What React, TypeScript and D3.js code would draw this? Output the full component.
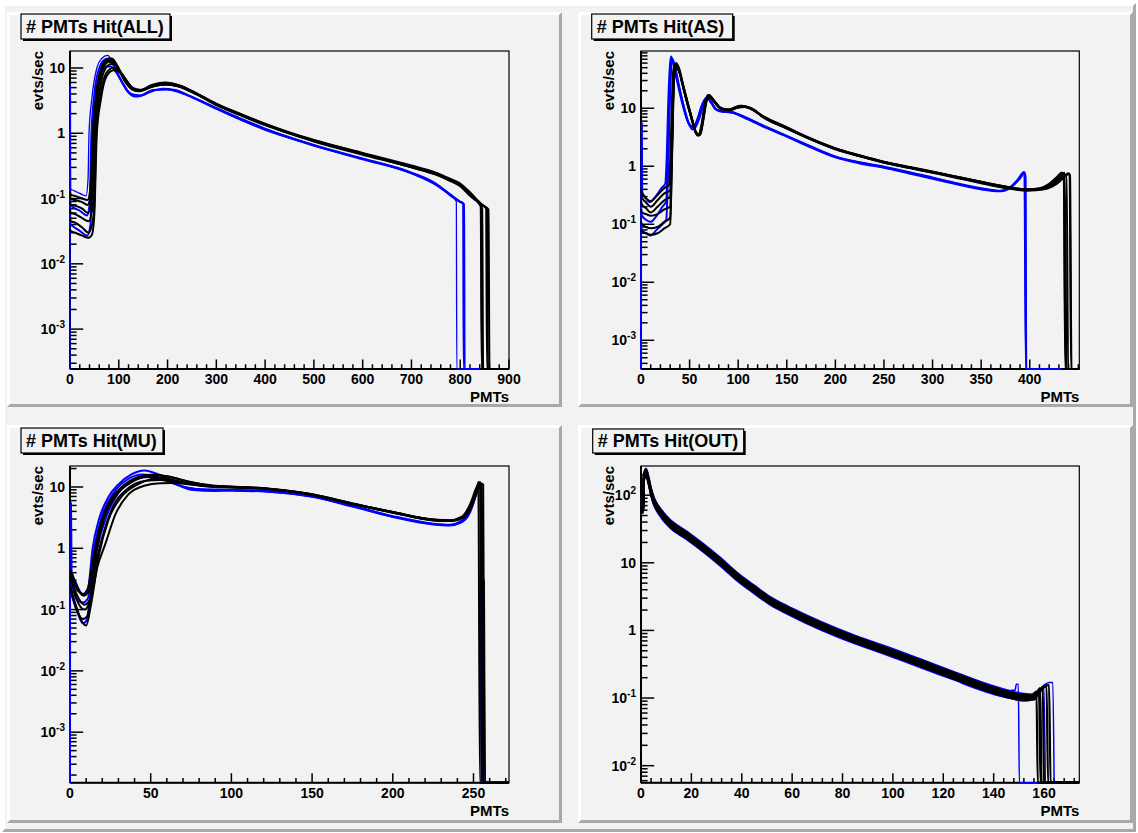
import * as d3 from 'd3';
import React from 'react';

type Pt = [number, number];

// ---------------- # PMTs Hit(ALL) ----------------
const allTitle = '# PMTs Hit(ALL)';
const allXMax = 900;
const allYRange: Pt = [2.45e-4, 18.2];
const allXLabels = [0, 100, 200, 300, 400, 500, 600, 700, 800, 900];
const allXMinor = 20;
const allBlue: Pt[][] = [
  [[0, 0], [0.2, 5.5], [0.9, 5.5], [1.2, 0.14], [5, 0.135], [15, 0.125], [25, 0.115], [33, 0.11], [37, 0.2], [39, 1], [45, 3.5], [55, 10], [65, 14], [77, 15.6], [88, 12], [100, 7.5], [115, 4.6], [135, 3.6], [150, 3.8], [170, 4.5], [195, 4.7], [220, 4.3], [250, 3.5], [300, 2.35], [350, 1.6], [400, 1.12], [450, 0.84], [500, 0.64], [600, 0.4], [700, 0.24], [750, 0.16], [780, 0.11], [792, 0.09], [793, 0], [840, 0]],
  [[0, 0.3], [1, 0.08], [5, 0.075], [20, 0.065], [35, 0.055], [40, 0.08], [44, 1], [50, 4], [60, 10], [72, 13.5], [80, 14], [92, 10], [105, 6.5], [120, 4.3], [140, 3.7], [160, 4.2], [190, 4.8], [215, 4.6], [250, 3.6], [300, 2.45], [350, 1.68], [400, 1.18], [450, 0.87], [500, 0.66], [600, 0.41], [700, 0.25], [750, 0.17], [780, 0.115], [800, 0.09], [806, 0.085], [807, 0], [840, 0]],
  [[0, 0.1], [1, 0.04], [5, 0.038], [20, 0.032], [35, 0.027], [42, 0.04], [46, 1], [52, 3.5], [62, 8], [75, 10.5], [83, 10.5], [95, 8.5], [110, 5.5], [125, 4], [145, 3.8], [170, 4.6], [200, 4.7], [230, 4.2], [260, 3.3], [300, 2.4], [350, 1.62], [400, 1.14], [450, 0.85], [500, 0.65], [600, 0.4], [700, 0.245], [750, 0.165], [780, 0.112], [800, 0.088], [808, 0.082], [809, 0], [840, 0]],
];
const allBlueWidth = [1.3, 2, 2];
const allBlack: Pt[][] = [
  [[0, 0.13], [1, 0.115], [10, 0.11], [25, 0.1], [36, 0.095], [42, 0.15], [47, 1], [54, 4], [64, 10], [78, 13.8], [86, 14], [98, 10.5], [112, 6.5], [128, 4.8], [145, 4.6], [165, 5.4], [195, 6.0], [225, 5.4], [260, 4.0], [300, 2.8], [350, 1.95], [400, 1.38], [450, 1.02], [500, 0.78], [600, 0.49], [700, 0.31], [750, 0.245], [780, 0.195], [800, 0.165], [820, 0.12], [840, 0.082], [845, 0.07], [847, 0], [900, 0]],
  [[0, 0.09], [1, 0.08], [10, 0.078], [25, 0.07], [37, 0.06], [45, 0.1], [50, 1], [57, 4], [67, 9.5], [80, 12.5], [90, 12], [102, 9], [118, 5.5], [135, 4.5], [150, 4.7], [175, 5.6], [205, 5.8], [235, 5.0], [270, 3.7], [300, 2.85], [350, 1.98], [400, 1.4], [450, 1.03], [500, 0.79], [600, 0.5], [700, 0.32], [750, 0.25], [780, 0.2], [800, 0.17], [820, 0.125], [845, 0.08], [855, 0.07], [857, 0], [900, 0]],
  [[0, 0.07], [1, 0.06], [10, 0.058], [25, 0.05], [38, 0.045], [47, 0.08], [52, 1], [60, 4], [70, 9], [84, 11.5], [94, 11], [106, 8], [122, 5.2], [140, 4.4], [160, 4.9], [190, 5.7], [220, 5.3], [260, 3.9], [300, 2.75], [350, 1.9], [400, 1.35], [450, 1.0], [500, 0.76], [600, 0.48], [700, 0.3], [750, 0.235], [780, 0.19], [800, 0.16], [820, 0.115], [838, 0.085], [842, 0.075], [844, 0], [900, 0]],
  [[0, 0.05], [1, 0.045], [10, 0.043], [25, 0.036], [38, 0.03], [49, 0.06], [54, 1], [62, 3.5], [73, 8], [88, 10], [98, 9.5], [110, 7.5], [126, 5.1], [142, 4.5], [165, 5.1], [195, 5.6], [230, 5.0], [270, 3.6], [300, 2.7], [350, 1.88], [400, 1.33], [450, 0.99], [500, 0.75], [600, 0.47], [700, 0.3], [750, 0.232], [780, 0.185], [800, 0.155], [820, 0.11], [850, 0.075], [858, 0.068], [860, 0], [900, 0]],
  [[0, 0.035], [1, 0.032], [10, 0.03], [25, 0.027], [38, 0.025], [45, 0.028], [50, 0.06], [55, 1], [63, 3.2], [75, 7.5], [90, 9.2], [100, 8.8], [112, 7], [128, 5], [145, 4.6], [170, 5.3], [200, 5.6], [230, 5.1], [270, 3.7], [300, 2.78], [350, 1.93], [400, 1.37], [450, 1.01], [500, 0.77], [600, 0.49], [700, 0.31], [750, 0.24], [780, 0.19], [800, 0.16], [820, 0.12], [845, 0.08], [853, 0.07], [855, 0], [900, 0]],
  [[0, 0.11], [1, 0.1], [10, 0.095], [25, 0.088], [36, 0.08], [43, 0.12], [48, 1], [55, 4.5], [65, 10], [78, 13], [86, 13.2], [98, 10], [113, 6.2], [130, 4.6], [147, 4.5], [168, 5.3], [198, 5.8], [228, 5.2], [265, 3.8], [300, 2.75], [350, 1.92], [400, 1.36], [450, 1.0], [500, 0.77], [600, 0.485], [700, 0.305], [750, 0.24], [780, 0.192], [800, 0.162], [820, 0.118], [840, 0.082], [843, 0.076], [845, 0], [900, 0]],
];

// ---------------- # PMTs Hit(AS) ----------------
const asTitle = '# PMTs Hit(AS)';
const asXMax = 451;
const asYRange: Pt = [3.2e-4, 97];
const asXLabels = [0, 50, 100, 150, 200, 250, 300, 350, 400];
const asXMinor = 10;
const asBlue: Pt[][] = [
  [[0, 0], [0.2, 5.5], [0.9, 5.5], [1.2, 0.36], [4, 0.3], [9, 0.24], [15, 0.3], [21, 0.42], [25, 0.5], [26.5, 1.5], [28, 12], [30, 60], [31, 78], [33, 62], [37, 30], [42, 13], [48, 6], [53, 4.3], [57, 5.5], [62, 10.5], [67, 15], [70, 14.5], [75, 10.5], [82, 8.8], [90, 8.6], [100, 7.8], [125, 5.0], [150, 3.3], [175, 2.15], [200, 1.45], [225, 1.15], [250, 0.96], [275, 0.78], [300, 0.63], [325, 0.5], [350, 0.41], [370, 0.375], [380, 0.44], [388, 0.6], [394, 0.8], [395.5, 0.7], [396.5, 0], [433, 0]],
  [[0, 0.2], [1, 0.14], [5, 0.12], [10, 0.11], [16, 0.14], [22, 0.2], [26, 0.25], [27.5, 1.5], [29, 15], [31, 55], [32.5, 70], [35, 52], [39, 25], [44, 11], [50, 5.2], [55, 4.5], [59, 6], [64, 11], [68, 15.5], [72, 13], [78, 9.5], [86, 8.7], [95, 8.4], [100, 7.7], [125, 4.9], [150, 3.25], [175, 2.1], [200, 1.42], [225, 1.12], [250, 0.94], [275, 0.76], [300, 0.61], [325, 0.49], [350, 0.4], [370, 0.37], [382, 0.45], [390, 0.62], [394, 0.75], [395.5, 0.65], [396, 0], [433, 0]],
  [[0, 0.1], [1, 0.08], [5, 0.07], [10, 0.064], [16, 0.08], [22, 0.1], [26, 0.12], [28, 1], [30, 20], [32, 65], [34, 58], [38, 28], [43, 12], [49, 5.5], [54, 4.8], [58, 6.5], [63, 11.5], [68, 15], [72, 12.5], [78, 9.3], [86, 8.9], [95, 8.5], [100, 7.9], [125, 5.1], [150, 3.35], [175, 2.2], [200, 1.48], [225, 1.17], [250, 0.98], [275, 0.8], [300, 0.64], [325, 0.51], [350, 0.42], [370, 0.38], [383, 0.47], [391, 0.66], [394.5, 0.78], [396, 0], [433, 0]],
];
const asBlueWidth = [2, 2, 2];
const asBlack: Pt[][] = [
  [[0, 0.4], [1, 0.34], [5, 0.28], [10, 0.25], [17, 0.32], [24, 0.42], [29, 0.48], [31, 4], [33, 42], [35, 58], [38, 50], [43, 24], [50, 8.5], [56, 4], [59, 3.4], [62, 5], [66, 13], [69, 17], [74, 14], [80, 10.5], [88, 9.3], [95, 10], [102, 11], [110, 10.3], [125, 7.4], [150, 4.7], [175, 3.0], [200, 2.05], [225, 1.55], [250, 1.2], [275, 0.98], [300, 0.81], [325, 0.66], [350, 0.54], [375, 0.45], [395, 0.4], [410, 0.42], [420, 0.5], [428, 0.65], [433, 0.78], [435, 0.72], [437, 0], [451, 0]],
  [[0, 0.3], [1, 0.28], [5, 0.24], [10, 0.2], [17, 0.26], [24, 0.34], [30, 0.38], [32, 4], [34, 40], [36.5, 55], [39, 46], [44, 22], [51, 8], [57, 3.8], [60, 3.5], [63, 5.5], [67, 14], [70, 16.5], [75, 13.5], [82, 10], [90, 9.4], [97, 10.3], [104, 10.8], [112, 10], [125, 7.3], [150, 4.6], [175, 2.95], [200, 2.0], [225, 1.52], [250, 1.18], [275, 0.96], [300, 0.79], [325, 0.65], [350, 0.53], [375, 0.44], [395, 0.39], [412, 0.41], [425, 0.5], [435, 0.68], [440, 0.76], [441.5, 0.7], [443, 0], [451, 0]],
  [[0, 0.18], [1, 0.16], [5, 0.15], [10, 0.14], [17, 0.15], [24, 0.18], [30, 0.2], [32, 3], [34, 38], [36, 52], [39, 45], [44, 21], [51, 7.8], [57, 3.6], [60, 3.4], [63, 5.2], [67, 13.5], [70, 16], [75, 13], [82, 9.8], [90, 9.2], [98, 10.1], [105, 10.6], [113, 9.8], [125, 7.2], [150, 4.5], [175, 2.9], [200, 1.98], [225, 1.5], [250, 1.16], [275, 0.95], [300, 0.78], [325, 0.64], [350, 0.52], [375, 0.43], [395, 0.39], [412, 0.4], [425, 0.48], [433, 0.7], [435, 0.65], [436.5, 0], [451, 0]],
  [[0, 0.11], [1, 0.1], [5, 0.09], [10, 0.085], [17, 0.09], [24, 0.11], [30, 0.13], [32, 2], [34, 35], [36, 50], [39, 44], [45, 19], [52, 7], [58, 3.5], [61, 3.5], [64, 6], [68, 14], [71, 15.5], [76, 12.5], [84, 9.6], [92, 9.3], [100, 10.3], [107, 10.5], [115, 9.6], [125, 7.1], [150, 4.45], [175, 2.88], [200, 1.96], [225, 1.48], [250, 1.15], [275, 0.94], [300, 0.77], [325, 0.63], [350, 0.51], [375, 0.42], [398, 0.38], [415, 0.4], [428, 0.5], [438, 0.7], [441, 0.74], [442.5, 0], [451, 0]],
  [[0, 0.08], [1, 0.075], [5, 0.07], [10, 0.066], [17, 0.07], [24, 0.085], [30, 0.1], [32, 1.5], [34, 30], [36.5, 48], [39.5, 42], [45, 18], [52, 6.8], [58, 3.4], [61, 3.6], [64, 6.5], [68, 14.5], [71, 16], [76, 12.8], [84, 9.5], [92, 9.4], [100, 10.5], [107, 10.7], [115, 9.7], [125, 7.2], [150, 4.55], [175, 2.92], [200, 2.0], [225, 1.5], [250, 1.17], [275, 0.96], [300, 0.8], [325, 0.65], [350, 0.53], [375, 0.44], [398, 0.39], [415, 0.41], [427, 0.52], [435, 0.7], [438, 0.72], [439.5, 0], [451, 0]],
  [[0, 0.25], [1, 0.22], [5, 0.19], [10, 0.16], [17, 0.2], [24, 0.26], [30, 0.3], [32, 3], [34, 45], [36, 60], [39, 50], [44, 23], [51, 8.2], [57, 3.7], [60, 3.5], [63, 5.5], [67, 14], [70, 17], [75, 13.8], [82, 10.2], [90, 9.4], [97, 10.4], [104, 11], [112, 10.2], [125, 7.35], [150, 4.65], [175, 2.98], [200, 2.03], [225, 1.53], [250, 1.19], [275, 0.97], [300, 0.8], [325, 0.66], [350, 0.54], [375, 0.45], [395, 0.4], [410, 0.41], [422, 0.5], [431, 0.68], [436, 0.77], [438, 0], [451, 0]],
];

// ---------------- # PMTs Hit(MU) ----------------
const muTitle = '# PMTs Hit(MU)';
const muXMax = 272;
const muYRange: Pt = [1.5e-4, 22];
const muXLabels = [0, 50, 100, 150, 200, 250];
const muXMinor = 10;
const muBlue: Pt[][] = [
  [[0, 0], [0.1, 5.5], [0.6, 5.5], [1, 0.38], [3, 0.3], [6, 0.2], [9, 0.17], [11, 0.2], [14, 1], [18, 3], [24, 7], [30, 11], [38, 16], [46, 18.6], [55, 16], [65, 11.5], [75, 9], [90, 8.6], [100, 8.7], [125, 8.3], [150, 6.9], [175, 4.8], [200, 3.25], [225, 2.45], [235, 2.35], [242, 2.6], [247, 3.5], [250, 5.5], [253, 10], [254, 11], [255, 0], [272, 0]],
  [[0, 0.3], [1, 0.25], [4, 0.15], [8, 0.13], [11, 0.15], [15, 1], [20, 3.5], [27, 8], [35, 13], [45, 16], [53, 15], [62, 12], [72, 9.8], [85, 9], [100, 8.9], [125, 8.4], [150, 7.0], [175, 4.9], [200, 3.3], [225, 2.5], [235, 2.4], [243, 2.8], [248, 4], [252, 8], [254, 11], [255.5, 0], [272, 0]],
  [[0, 0.2], [1, 0.17], [4, 0.1], [8, 0.06], [10, 0.065], [13, 0.2], [17, 1], [23, 3.5], [30, 8], [38, 12], [48, 14.5], [58, 13], [68, 10.5], [80, 9.2], [100, 9.0], [125, 8.5], [150, 7.05], [175, 4.95], [200, 3.35], [225, 2.52], [235, 2.42], [243, 2.85], [248, 4.2], [252, 8.5], [255, 10.5], [255.6, 0.012], [256.3, 0], [272, 0]],
];
const muBlueWidth = [2, 2, 2];
const muBlack: Pt[][] = [
  [[0, 0.4], [1, 0.35], [4, 0.22], [8, 0.18], [11, 0.22], [14, 0.6], [18, 2], [24, 5.5], [32, 10], [42, 14.5], [52, 16], [62, 14.5], [75, 12], [90, 10.5], [100, 10.2], [125, 9.3], [150, 7.6], [175, 5.4], [200, 3.9], [225, 2.95], [235, 2.85], [243, 3.3], [248, 5], [252, 9], [253, 12], [254.5, 12], [255, 0], [272, 0]],
  [[0, 0.3], [1, 0.28], [4, 0.15], [9, 0.1], [12, 0.13], [16, 0.8], [21, 3], [28, 7], [38, 12], [48, 14.5], [58, 14], [70, 12], [85, 10.3], [100, 10], [125, 9.2], [150, 7.5], [175, 5.3], [200, 3.85], [225, 2.9], [235, 2.8], [244, 3.3], [249, 5.2], [253, 10], [255, 10.5], [255.6, 0.31], [256.5, 0.3], [257, 0], [272, 0]],
  [[0, 0.25], [1, 0.2], [4, 0.11], [8, 0.06], [10, 0.055], [13, 0.12], [18, 0.8], [24, 3], [32, 7], [42, 11], [52, 13.5], [62, 13], [75, 11], [90, 10], [100, 9.8], [125, 9.1], [150, 7.4], [175, 5.25], [200, 3.8], [225, 2.85], [235, 2.78], [244, 3.2], [249, 5], [253, 9.5], [255, 10], [256, 0], [272, 0]],
  [[0, 0.35], [1, 0.3], [4, 0.18], [9, 0.12], [13, 0.16], [17, 0.5], [22, 1.2], [28, 3.5], [36, 7.5], [46, 10.5], [56, 11.5], [64, 11.6], [75, 11], [90, 10.2], [100, 10], [125, 9.2], [150, 7.5], [175, 5.35], [200, 3.9], [225, 2.92], [235, 2.82], [244, 3.25], [249, 5.1], [252, 8], [254, 11.5], [256, 11], [256.5, 0.012], [257.3, 0], [272, 0]],
  [[0, 0.45], [1, 0.4], [4, 0.25], [8, 0.17], [12, 0.2], [16, 0.9], [21, 3.2], [29, 8], [39, 13], [50, 15.5], [60, 15], [72, 12.5], [88, 10.4], [100, 10.1], [125, 9.3], [150, 7.6], [175, 5.4], [200, 3.9], [225, 2.95], [235, 2.86], [243, 3.3], [248, 5.3], [252, 10], [253, 11], [254, 0], [272, 0]],
  [[0, 0.2], [1, 0.18], [4, 0.1], [8, 0.07], [11, 0.08], [15, 0.4], [20, 1.5], [27, 5], [36, 9.5], [46, 12.5], [56, 13], [66, 12], [80, 10.8], [95, 10], [100, 9.9], [125, 9.1], [150, 7.45], [175, 5.3], [200, 3.85], [225, 2.88], [235, 2.8], [244, 3.2], [249, 5], [252, 8.5], [255, 10.8], [256, 0], [272, 0]],
];

// ---------------- # PMTs Hit(OUT) ----------------
const outTitle = '# PMTs Hit(OUT)';
const outXMax = 174;
const outYRange: Pt = [5.6e-3, 270];
const outXLabels = [0, 20, 40, 60, 80, 100, 120, 140, 160];
const outXMinor = 4;
const outBlue: Pt[][] = [
  [[0, 53], [0.9, 55], [1.1, 155], [2, 187], [3, 142], [4, 96], [5, 72], [6, 60], [8, 46], [11.5, 32.7], [18, 22.2], [25, 14.1], [31.5, 8.9], [38, 5.46], [45, 3.48], [51.5, 2.34], [58, 1.74], [65, 1.3], [78, 0.8], [91.5, 0.52], [97, 0.44], [110, 0.29], [123, 0.192], [137, 0.123], [143, 0.106], [146.5, 0.1], [147, 0.13], [148.5, 0.13], [149, 0.16], [149.8, 0.16], [150.2, 0], [163, 0]],
  [[0, 71], [0.9, 74], [1.1, 207], [2, 250], [3, 190], [4, 129], [5, 97], [6, 80], [8, 62], [11.5, 44], [18, 29.7], [25, 18.9], [31.5, 12], [38, 7.3], [45, 4.66], [51.5, 3.13], [58, 2.32], [65, 1.74], [78, 1.07], [91.5, 0.69], [97, 0.59], [110, 0.39], [123, 0.256], [137, 0.164], [146, 0.13], [152, 0.117], [156, 0.115], [158, 0.13], [160, 0.155], [162, 0.17], [163.5, 0.17], [164, 0]],
  [[0, 55], [0.9, 57], [1.1, 160], [2, 195], [3, 148], [4, 100], [5, 75], [6, 62], [8, 48], [11.5, 33.5], [18, 22.8], [25, 14.5], [31.5, 9.2], [38, 5.6], [45, 3.58], [51.5, 2.4], [58, 1.78], [65, 1.33], [78, 0.82], [91.5, 0.53], [97, 0.45], [110, 0.3], [123, 0.197], [137, 0.127], [146, 0.1], [152, 0.091], [156, 0.094], [158, 0.115], [160, 0.14], [160.5, 0]],
];
const outBlueWidth = [1.5, 1.5, 1.5];
const outBlack: Pt[][] = [
  [[0, 68], [0.9, 70], [1.1, 198], [2, 240], [3, 182], [4, 123], [5, 92], [6, 77], [8, 59], [11.5, 42], [18, 28.4], [25, 18], [31.5, 11.4], [38, 7.0], [45, 4.45], [51.5, 3.0], [58, 2.22], [65, 1.66], [78, 1.02], [91.5, 0.66], [97, 0.56], [110, 0.374], [123, 0.245], [137, 0.157], [146, 0.124], [152, 0.112], [155, 0.11], [157, 0.125], [157.5, 0], [174, 0]],
  [[0, 65], [0.9, 67], [1.1, 189], [2, 229], [3, 173], [4, 118], [5, 88], [6, 73.5], [8, 57], [11.5, 40], [18, 27.1], [25, 17.2], [31.5, 10.9], [38, 6.67], [45, 4.25], [51.5, 2.86], [58, 2.12], [65, 1.59], [78, 0.98], [91.5, 0.63], [97, 0.535], [110, 0.357], [123, 0.234], [137, 0.15], [146, 0.119], [152, 0.107], [156, 0.108], [158, 0.132], [158.6, 0], [174, 0]],
  [[0, 62], [0.9, 64], [1.1, 180], [2, 218], [3, 165], [4, 112], [5, 84], [6, 70], [8, 54], [11.5, 38], [18, 25.8], [25, 16.4], [31.5, 10.4], [38, 6.35], [45, 4.05], [51.5, 2.72], [58, 2.02], [65, 1.51], [78, 0.93], [91.5, 0.6], [97, 0.51], [110, 0.34], [123, 0.223], [137, 0.143], [146, 0.113], [152, 0.102], [156, 0.104], [158, 0.125], [159.5, 0.145], [160, 0], [174, 0]],
  [[0, 59], [0.9, 61], [1.1, 171], [2, 207], [3, 157], [4, 106], [5, 80], [6, 66.5], [8, 51], [11.5, 36], [18, 24.5], [25, 15.6], [31.5, 9.9], [38, 6.03], [45, 3.85], [51.5, 2.58], [58, 1.92], [65, 1.43], [78, 0.88], [91.5, 0.57], [97, 0.485], [110, 0.323], [123, 0.212], [137, 0.136], [146, 0.107], [152, 0.097], [156, 0.1], [159, 0.135], [161, 0.15], [161.6, 0], [174, 0]],
  [[0, 56], [0.9, 58], [1.1, 162], [2, 196], [3, 149], [4, 101], [5, 76], [6, 63], [8, 49], [11.5, 34], [18, 23.2], [25, 14.8], [31.5, 9.4], [38, 5.7], [45, 3.65], [51.5, 2.45], [58, 1.82], [65, 1.36], [78, 0.84], [91.5, 0.54], [97, 0.46], [110, 0.306], [123, 0.2], [137, 0.129], [146, 0.102], [152, 0.092], [156, 0.096], [158, 0.125], [160, 0.148], [162, 0.155], [162.6, 0], [174, 0]],
  [[0, 61], [0.9, 63], [1.1, 176], [2, 214], [3, 162], [4, 110], [5, 82], [6, 69], [8, 53], [11.5, 37], [18, 25.3], [25, 16.1], [31.5, 10.2], [38, 6.2], [45, 3.97], [51.5, 2.67], [58, 1.98], [65, 1.48], [78, 0.91], [91.5, 0.59], [97, 0.5], [110, 0.333], [123, 0.219], [137, 0.14], [146, 0.111], [152, 0.1], [156, 0.101], [158.5, 0.14], [159, 0], [174, 0]],
];

// ---------------- layout ----------------
const W = 1138;
const H = 833;
const FONT = '"Liberation Sans", Arial, Helvetica, sans-serif';
const CANVAS_BG = '#f2f2f2';
const PAD_BG = '#f2f2f2';

const pads = [
  { title: allTitle, xMax: allXMax, yRange: allYRange, xLabels: allXLabels, xMinor: allXMinor, blue: allBlue, blueW: allBlueWidth, black: allBlack, blackW: 2,
    pad: [7, 12, 555, 395], frame: [70, 51, 509, 369], tbox: [21, 14, 149, 25] },
  { title: asTitle, xMax: asXMax, yRange: asYRange, xLabels: asXLabels, xMinor: asXMinor, blue: asBlue, blueW: asBlueWidth, black: asBlack, blackW: 2,
    pad: [578, 12, 555, 395], frame: [641, 51, 1079.3, 369], tbox: [591.7, 14, 141, 25] },
  { title: muTitle, xMax: muXMax, yRange: muYRange, xLabels: muXLabels, xMinor: muXMinor, blue: muBlue, blueW: muBlueWidth, black: muBlack, blackW: 2,
    pad: [7, 425, 555, 398], frame: [70, 466, 509, 782.7], tbox: [21, 428, 142, 25] },
  { title: outTitle, xMax: outXMax, yRange: outYRange, xLabels: outXLabels, xMinor: outXMinor, blue: outBlue, blueW: outBlueWidth, black: outBlack, blackW: 2.2,
    pad: [578, 425, 555, 398], frame: [641, 466, 1079.3, 782.7], tbox: [592.7, 429, 151, 24] },
];

function Bevel({ x, y, w, h, bw, light, dark }: any) {
  const lp = `${x},${y} ${x + w},${y} ${x + w - bw},${y + bw} ${x + bw},${y + bw} ${x + bw},${y + h - bw} ${x},${y + h}`;
  const dp = `${x + w},${y} ${x + w},${y + h} ${x},${y + h} ${x + bw},${y + h - bw} ${x + w - bw},${y + h - bw} ${x + w - bw},${y + bw}`;
  return (
    <g>
      <polygon points={lp} fill={light} />
      <polygon points={dp} fill={dark} />
    </g>
  );
}

function logTicks(lo: number, hi: number) {
  const out: { v: number; major: boolean; e: number }[] = [];
  for (let e = Math.floor(Math.log10(lo)); e <= Math.ceil(Math.log10(hi)); e++) {
    for (let k = 1; k <= 9; k++) {
      const v = k * Math.pow(10, e);
      if (v >= lo * 0.999 && v <= hi * 1.001) out.push({ v, major: k === 1, e });
    }
  }
  return out;
}

function YLabel({ x, y, e }: { x: number; y: number; e: number }) {
  if (e === 0 || e === 1) {
    return <text x={x} y={y + 5} textAnchor="end" fontSize={14} fontWeight="bold">{e === 0 ? '1' : '10'}</text>;
  }
  return (
    <text x={x} y={y + 5} textAnchor="end" fontSize={14} fontWeight="bold">
      10<tspan fontSize={10} dy={-6}>{String(e)}</tspan>
    </text>
  );
}

function Pad({ cfg, idx }: { cfg: any; idx: number }) {
  const [px, py, pw, ph] = cfg.pad;
  const [fx0, fy0, fx1, fy1] = cfg.frame;
  const x = d3.scaleLinear().domain([0, cfg.xMax]).range([fx0, fx1]);
  const y = d3.scaleLog().domain(cfg.yRange).range([fy1, fy0]).clamp(true);
  const yv = (v: number) => y(Math.max(v, cfg.yRange[0]));
  const line = d3.line<Pt>().x(d => x(d[0])).y(d => yv(d[1])).curve(d3.curveMonotoneX);
  const fw = fx1 - fx0;
  const fh = fy1 - fy0;
  const xTickLen = 0.03 * fh;
  const yTickLen = 0.03 * fw;
  const xMinorTicks = d3.range(0, cfg.xMax + 1e-6, cfg.xMinor);
  const yTicks = logTicks(cfg.yRange[0], cfg.yRange[1]);
  const clipId = `clip${idx}`;
  const [tx, ty, tw, th] = cfg.tbox;
  return (
    <g>
      <rect x={px} y={py} width={pw} height={ph} fill={PAD_BG} />
      <Bevel x={px} y={py} w={pw} h={ph} bw={3} light="#ffffff" dark="#a8a8a8" />
      <defs>
        <clipPath id={clipId}>
          <rect x={fx0 - 2} y={fy0} width={fw + 2} height={fh + 2} />
        </clipPath>
      </defs>
      <rect x={fx0} y={fy0} width={fw} height={fh} fill={PAD_BG} stroke="#000" strokeWidth={1.2} />
      {/* x axis ticks */}
      {xMinorTicks.map((t: number, i: number) => {
        const major = cfg.xLabels.includes(t);
        return <line key={'xt' + i} x1={x(t)} x2={x(t)} y1={fy1} y2={fy1 - (major ? xTickLen : xTickLen / 2)} stroke="#000" strokeWidth={1.5} />;
      })}
      {cfg.xLabels.map((t: number) => (
        <text key={'xl' + t} x={x(t)} y={fy1 + 15} textAnchor="middle" fontSize={14} fontWeight="bold">{t}</text>
      ))}
      {/* y axis ticks */}
      {yTicks.map((t, i) => (
        <line key={'yt' + i} x1={fx0} x2={fx0 + (t.major ? yTickLen : yTickLen / 2)} y1={y(t.v)} y2={y(t.v)} stroke="#000" strokeWidth={1.5} />
      ))}
      {yTicks.filter(t => t.major).map((t, i) => (
        <YLabel key={'yl' + i} x={fx0 - 5} y={y(t.v)} e={t.e} />
      ))}
      <line x1={fx0} x2={fx1} y1={fy1} y2={fy1} stroke="#000" strokeWidth={2} />
      <line x1={fx0} x2={fx0} y1={fy0} y2={fy1} stroke="#000" strokeWidth={2} />
      {/* histograms */}
      <g clipPath={`url(#${clipId})`} fill="none" strokeLinejoin="round">
        {cfg.blue.map((s: Pt[], i: number) => (
          <path key={'b' + i} d={line(s) || ''} stroke="#0000ff" strokeWidth={cfg.blueW[i]} />
        ))}
        {cfg.black.map((s: Pt[], i: number) => (
          <path key={'k' + i} d={line(s) || ''} stroke="#000000" strokeWidth={cfg.blackW} />
        ))}
      </g>
      {/* axis titles */}
      <text x={fx1} y={fy1 + 33} textAnchor="end" fontSize={15} fontWeight="bold">PMTs</text>
      <text transform={`translate(${fx0 - 27},${fy0}) rotate(-90)`} textAnchor="end" fontSize={15} fontWeight="bold">evts/sec</text>
      {/* title box */}
      <rect x={tx + 2} y={ty + 2} width={tw} height={th} fill="#000" />
      <rect x={tx} y={ty} width={tw} height={th} fill={PAD_BG} stroke="#000" strokeWidth={1.2} />
      <text x={tx + 5} y={ty + th - 6} fontSize={18} fontWeight="bold">{cfg.title}</text>
    </g>
  );
}

export default function App() {
  return (
    <div style={{ position: 'absolute', left: 0, top: 0 }}>
      <svg width={W} height={H} style={{ display: 'block', fontFamily: FONT }}>
        <rect x={0} y={0} width={W} height={H} fill="#ffffff" />
        <rect x={2} y={3} width={W - 4} height={H - 4} fill={CANVAS_BG} />
        <Bevel x={2} y={3} w={W - 4} h={H - 4} bw={3} light="#ffffff" dark="#a8a8a8" />
        {pads.map((p, i) => <Pad key={i} cfg={p} idx={i} />)}
      </svg>
    </div>
  );
}
